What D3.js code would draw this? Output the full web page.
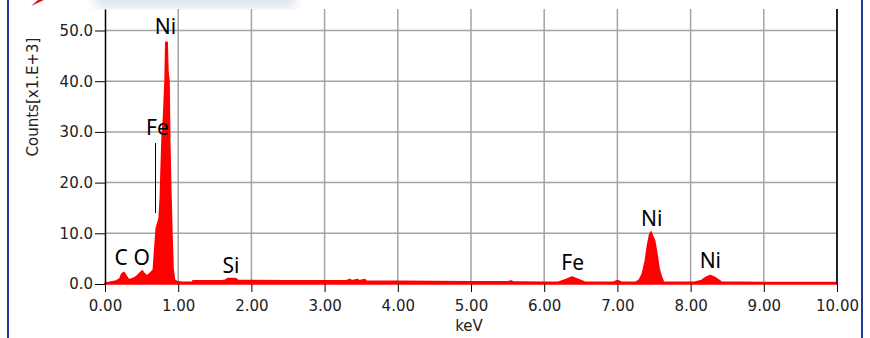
<!DOCTYPE html>
<html>
<head>
<meta charset="utf-8">
<script src="https://cdn.jsdelivr.net/npm/d3@7"></script>
<style>
  body { margin: 0; background: #fff; }
  .tick text { font-family: "DejaVu Sans", sans-serif; font-size: 15px; fill: #222; }
  .peak { font-family: "Noto Sans", sans-serif; font-size: 21px; fill: #000; }
</style>
</head>
<body>
<div id="chart"></div>
<script>
// EDS spectrum, counts in thousands vs energy (keV)
var spectrumKeV = [0.00, 0.05, 0.10, 0.15, 0.20, 0.23, 0.26, 0.29, 0.32, 0.36, 0.40, 0.44, 0.48, 0.51, 0.54, 0.57,
  0.60, 0.63, 0.66, 0.68, 0.70, 0.72, 0.74, 0.755, 0.765, 0.78, 0.80, 0.82, 0.83, 0.85, 0.86, 0.875, 0.885, 0.90,
  0.915, 0.93, 0.95, 0.98, 1.05, 1.15, 1.19, 1.20, 1.60, 1.65, 1.68, 1.78, 1.82, 2.50, 3.00, 3.30, 3.35, 3.37,
  3.45, 3.47, 3.55, 3.57, 4.00, 4.50, 5.00, 5.50, 5.55, 5.57, 5.70, 6.00, 6.20, 6.30, 6.38, 6.45, 6.55, 6.95,
  7.00, 7.05, 7.25, 7.30, 7.34, 7.38, 7.41, 7.44, 7.46, 7.48, 7.51, 7.54, 7.57, 7.60, 7.63, 8.05, 8.15, 8.22,
  8.27, 8.33, 8.42, 9.00, 9.50, 10.00];
var spectrumCounts = [0.15, 0.3, 0.45, 0.6, 1.0, 2.0, 2.3, 1.6, 0.9, 1.0, 1.2, 1.6, 2.2, 2.6, 2.0, 1.6,
  1.9, 2.3, 2.8, 7, 11, 12, 13, 17, 22, 29, 33, 40, 47.7, 47.7, 42, 40, 28, 18,
  10, 3, 0.8, 0.5, 0.35, 0.35, 0.35, 0.65, 0.65, 0.8, 1.1, 1.1, 0.7, 0.65, 0.65, 0.7, 0.9, 0.65,
  0.9, 0.65, 0.9, 0.6, 0.55, 0.5, 0.45, 0.45, 0.6, 0.45, 0.4, 0.35, 0.4, 0.9, 1.4, 1.0, 0.4, 0.35,
  0.7, 0.4, 0.35, 0.8, 2.0, 4.5, 7.5, 9.8, 10.3, 9.5, 8.5, 6.0, 3.0, 1.5, 0.4, 0.35, 0.7, 1.4,
  1.7, 1.3, 0.4, 0.3, 0.3, 0.3];

var xTicks = [0, 1, 2, 3, 4, 5, 6, 7, 8, 9, 10];
var yTicks = [0, 10, 20, 30, 40, 50];

var peakNames = ["Ni", "Fe", "C", "O", "Si", "Fe", "Ni", "Ni"];
var peakKeV = [0.826, 0.717, 0.22, 0.50, 1.72, 6.39, 7.47, 8.27];
var peakCounts = [49.3, 29.4, 3.75, 3.75, 2.1, 2.75, 11.4, 3.1];

// marker line next to the Fe label
var markerKeV = 0.69;
var markerCounts = [14, 27.8];

var width = 870, height = 338;
var margin = { top: 9, right: 33, bottom: 54, left: 105 };

var svg = d3.select("#chart").append("svg")
  .attr("width", width)
  .attr("height", height);

var xScale = d3.scaleLinear().domain([0, 10]).range([margin.left, width - margin.right]);
var yScale = d3.scaleLinear().domain([0, 54.24]).range([height - margin.bottom, margin.top]);

// page decoration (slide frame)
var defs = svg.append("defs");
defs.append("filter").attr("id", "blur").append("feGaussianBlur").attr("stdDeviation", 4);
svg.append("rect").attr("x", 95).attr("y", -8).attr("width", 200).attr("height", 16)
  .attr("fill", "#dfe6ef").attr("filter", "url(#blur)");
svg.append("path").attr("d", "M31,6 L44,0 L38,0 Z").attr("fill", "#e01010");
svg.append("line").attr("x1", 8).attr("x2", 8).attr("y1", 0).attr("y2", height)
  .attr("stroke", "#1f3d94").attr("stroke-width", 2);
svg.append("line").attr("x1", 862).attr("x2", 862).attr("y1", 0).attr("y2", height)
  .attr("stroke", "#1f3d94").attr("stroke-width", 2);

// grid
var grid = svg.append("g");
grid.selectAll(".vgrid")
  .data(xTicks.slice(1, -1))
  .enter().append("line")
  .attr("x1", d => xScale(d)).attr("x2", d => xScale(d))
  .attr("y1", yScale.range()[0]).attr("y2", yScale.range()[1])
  .attr("stroke", "#a3a3a3").attr("stroke-width", 1.5);
grid.selectAll(".hgrid")
  .data(yTicks.slice(1))
  .enter().append("line")
  .attr("x1", xScale(0)).attr("x2", xScale(10))
  .attr("y1", d => yScale(d)).attr("y2", d => yScale(d))
  .attr("stroke", "#a3a3a3").attr("stroke-width", 1.5);

// spectrum
var spectrum = spectrumKeV.map((k, i) => ({ kev: k, counts: spectrumCounts[i] }));
var area = d3.area()
  .x(d => xScale(d.kev))
  .y0(yScale(0))
  .y1(d => yScale(d.counts));
svg.append("path")
  .datum(spectrum)
  .attr("d", area)
  .attr("fill", "#ff0000")
  .attr("stroke", "#ff0000")
  .attr("stroke-width", 1.5)
  .attr("stroke-linejoin", "round");

// axes
var leftAxis = d3.axisLeft(yScale).tickValues(yTicks).tickFormat(d3.format(".1f"))
  .tickSize(10).tickSizeOuter(0).tickPadding(2);
var bottomAxis = d3.axisBottom(xScale).tickValues(xTicks).tickFormat(d3.format(".2f"))
  .tickSize(8).tickSizeOuter(0).tickPadding(8);

svg.append("g")
  .attr("transform", "translate(" + margin.left + ",0)")
  .call(leftAxis)
  .call(g => g.select(".domain").attr("stroke-width", 1.5))
  .call(g => g.selectAll("text").attr("font-family", null).attr("font-size", null));

svg.append("g")
  .attr("transform", "translate(0," + yScale(0) + ")")
  .call(bottomAxis)
  .call(g => g.select(".domain").remove())
  .call(g => g.selectAll("text").attr("font-family", null).attr("font-size", null));

// right frame line
svg.append("line")
  .attr("x1", xScale(10)).attr("x2", xScale(10))
  .attr("y1", yScale.range()[0]).attr("y2", yScale.range()[1])
  .attr("stroke", "#222").attr("stroke-width", 2);

// axis titles
svg.append("text")
  .attr("x", xScale(5) - 2)
  .attr("y", 331)
  .attr("text-anchor", "middle")
  .style("font-family", "DejaVu Sans, sans-serif")
  .style("font-size", "15px")
  .style("fill", "#222")
  .text("keV");

svg.append("text")
  .attr("transform", "translate(38," + 97 + ") rotate(-90)")
  .attr("text-anchor", "middle")
  .style("font-family", "DejaVu Sans, sans-serif")
  .style("font-size", "15px")
  .style("fill", "#222")
  .text("Counts[x1.E+3]");

// peak labels
svg.selectAll(".peak")
  .data(peakNames)
  .enter().append("text")
  .attr("class", "peak")
  .attr("x", (d, i) => xScale(peakKeV[i]))
  .attr("y", (d, i) => yScale(peakCounts[i]))
  .attr("text-anchor", "middle")
  .text(d => d);

svg.append("line")
  .attr("x1", xScale(markerKeV)).attr("x2", xScale(markerKeV))
  .attr("y1", yScale(markerCounts[0])).attr("y2", yScale(markerCounts[1]))
  .attr("stroke", "#000").attr("stroke-width", 1);
</script>
</body>
</html>
